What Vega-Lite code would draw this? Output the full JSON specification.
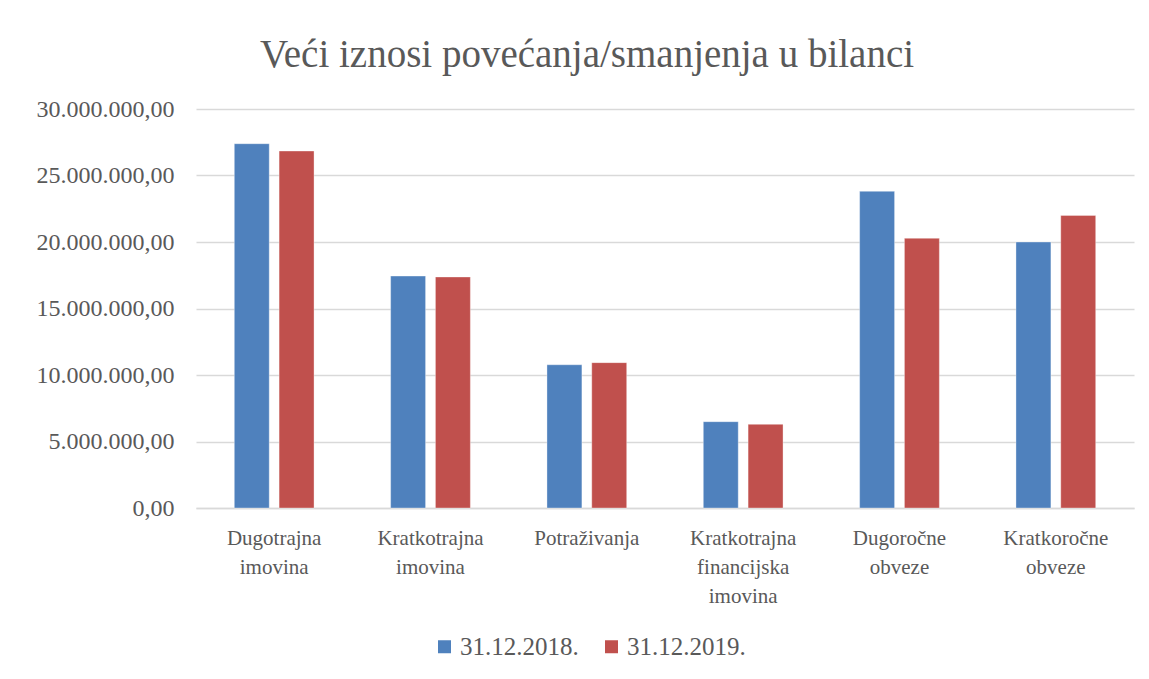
{
  "$schema": "https://vega.github.io/schema/vega-lite/v6.json",
  "width": 938,
  "height": 399,
  "autosize": {"type": "none"},
  "padding": {"left": 196, "top": 109, "right": 15, "bottom": 171},
  "background": "white",
  "config": {
    "locale": {"number": {"decimal": ",", "thousands": ".", "grouping": [3], "currency": ["", ""]}},
    "view": {"stroke": null},
    "font": "Liberation Serif"
  },
  "title": {
    "text": "Veći iznosi povećanja/smanjenja u bilanci",
    "font": "Liberation Serif",
    "fontSize": 39,
    "fontWeight": "normal",
    "color": "#595959",
    "anchor": "middle",
    "dx": -78,
    "offset": 22
  },
  "data": {
    "values": [
      {"kategorija": "Dugotrajna imovina", "datum": "31.12.2018.", "iznos": 27390000},
      {"kategorija": "Dugotrajna imovina", "datum": "31.12.2019.", "iznos": 26840000},
      {"kategorija": "Kratkotrajna imovina", "datum": "31.12.2018.", "iznos": 17440000},
      {"kategorija": "Kratkotrajna imovina", "datum": "31.12.2019.", "iznos": 17370000},
      {"kategorija": "Potraživanja", "datum": "31.12.2018.", "iznos": 10770000},
      {"kategorija": "Potraživanja", "datum": "31.12.2019.", "iznos": 10930000},
      {"kategorija": "Kratkotrajna financijska imovina", "datum": "31.12.2018.", "iznos": 6490000},
      {"kategorija": "Kratkotrajna financijska imovina", "datum": "31.12.2019.", "iznos": 6290000},
      {"kategorija": "Dugoročne obveze", "datum": "31.12.2018.", "iznos": 23810000},
      {"kategorija": "Dugoročne obveze", "datum": "31.12.2019.", "iznos": 20280000},
      {"kategorija": "Kratkoročne obveze", "datum": "31.12.2018.", "iznos": 20000000},
      {"kategorija": "Kratkoročne obveze", "datum": "31.12.2019.", "iznos": 22000000}
    ]
  },
  "mark": {"type": "bar", "stroke": "white", "strokeOpacity": 0.35, "strokeWidth": 1},
  "encoding": {
    "x": {
      "field": "kategorija",
      "type": "nominal",
      "sort": null,
      "title": null,
      "scale": {"paddingInner": 0.49, "paddingOuter": 0.245},
      "axis": {
        "labelAngle": 0,
        "labelFont": "Liberation Serif",
        "labelFontSize": 21,
        "labelColor": "#595959",
        "labelPadding": 19,
        "labelLineHeight": 29,
        "labelBaseline": "top",
        "labelLimit": 200,
        "ticks": false,
        "domain": true,
        "domainColor": "#D9D9D9",
        "domainWidth": 1.5,
        "labelExpr": "datum.label == 'Dugotrajna imovina' ? ['Dugotrajna', 'imovina'] : datum.label == 'Kratkotrajna imovina' ? ['Kratkotrajna', 'imovina'] : datum.label == 'Kratkotrajna financijska imovina' ? ['Kratkotrajna', 'financijska', 'imovina'] : datum.label == 'Dugoročne obveze' ? ['Dugoročne', 'obveze'] : datum.label == 'Kratkoročne obveze' ? ['Kratkoročne', 'obveze'] : datum.label"
      }
    },
    "xOffset": {
      "field": "datum",
      "type": "nominal",
      "scale": {"paddingInner": 0.22, "paddingOuter": 0}
    },
    "y": {
      "field": "iznos",
      "type": "quantitative",
      "title": null,
      "scale": {"domain": [0, 30000000]},
      "axis": {
        "values": [0, 5000000, 10000000, 15000000, 20000000, 25000000, 30000000],
        "format": ",.2f",
        "labelFont": "Liberation Serif",
        "labelFontSize": 24,
        "labelColor": "#595959",
        "labelPadding": 22,
        "ticks": false,
        "domain": false,
        "grid": true,
        "gridColor": "#D9D9D9",
        "gridWidth": 1.5
      }
    },
    "color": {
      "field": "datum",
      "type": "nominal",
      "title": null,
      "scale": {"domain": ["31.12.2018.", "31.12.2019."], "range": ["#4F81BD", "#C0504D"]},
      "legend": {
        "orient": "none",
        "direction": "horizontal",
        "legendX": 236,
        "legendY": 525,
        "symbolType": "square",
        "symbolSize": 169,
        "symbolStrokeWidth": 0,
        "labelFont": "Liberation Serif",
        "labelFontSize": 25,
        "labelColor": "#595959",
        "labelOffset": 3,
        "columnPadding": 20
      }
    }
  }
}
